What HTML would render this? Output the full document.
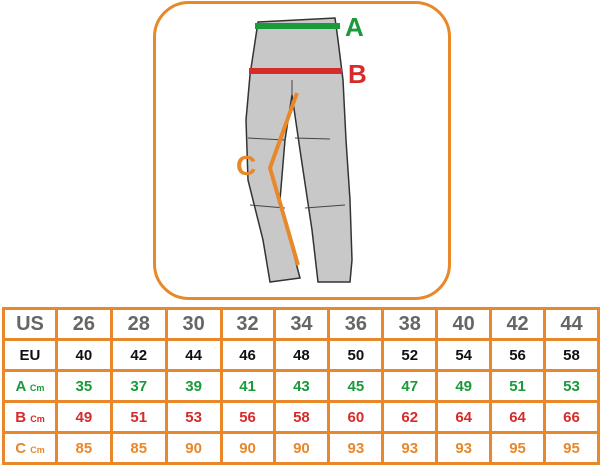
<!DOCTYPE html>
<html><head><style>
body{margin:0;width:600px;height:466px;background:#fff;position:relative;overflow:hidden;font-family:"Liberation Sans",sans-serif}
.frame{position:absolute;left:153px;top:1px;width:292px;height:293px;border:3px solid #e8882a;border-radius:36px}
table{position:absolute;left:2px;top:307px;border-collapse:collapse;height:156px}
tr{height:31px}
td{border:3px solid #e8882a;text-align:center;font-weight:bold;padding:0}
</style></head><body>
<div class="frame"></div>
<svg style="position:absolute;left:0;top:0" width="600" height="300">
<path d="M258,22 L335,18 L338,40 L343,80 L346,140 L350,200 L352,260 L350,282 L318,282 L312,230 L300,150 L292,95 L285,140 L280,200 L290,240 L300,278 L270,282 L263,240 L248,180 L246,120 L250,75 Z" fill="#c8c8c8" stroke="#333" stroke-width="1.5"/>
<path d="M248,138 L285,140 M295,138 L330,139 M250,205 L285,208 M305,208 L345,205 M292,95 L292,80" stroke="#444" fill="none"/>
<line x1="255" y1="26" x2="340" y2="26" stroke="#1a9a3a" stroke-width="6"/>
<line x1="249" y1="71" x2="342" y2="71" stroke="#d62b2b" stroke-width="6"/>
<polyline points="297,93 270,168 298,265" fill="none" stroke="#e8882a" stroke-width="4"/>
<text x="345" y="36" font-family="Liberation Sans" font-weight="bold" font-size="26" fill="#1a9a3a">A</text>
<text x="348" y="83" font-family="Liberation Sans" font-weight="bold" font-size="26" fill="#d62b2b">B</text>
<text x="236" y="175" font-family="Liberation Sans" font-weight="bold" font-size="28" fill="#e8882a">C</text>
</svg>
<table>
<colgroup><col style="width:53px"><col style="width:55px"><col style="width:55px"><col style="width:55px"><col style="width:53px"><col style="width:55px"><col style="width:54px"><col style="width:54px"><col style="width:54px"><col style="width:54px"><col style="width:54px"></colgroup>
<tr style="color:#666;font-size:20px"><td>US</td><td>26</td><td>28</td><td>30</td><td>32</td><td>34</td><td>36</td><td>38</td><td>40</td><td>42</td><td>44</td></tr>
<tr style="color:#111;font-size:15px"><td>EU</td><td>40</td><td>42</td><td>44</td><td>46</td><td>48</td><td>50</td><td>52</td><td>54</td><td>56</td><td>58</td></tr>
<tr style="color:#1a9a3a;font-size:15px"><td>A <small style="font-size:9px">Cm</small></td><td>35</td><td>37</td><td>39</td><td>41</td><td>43</td><td>45</td><td>47</td><td>49</td><td>51</td><td>53</td></tr>
<tr style="color:#d62b2b;font-size:15px"><td>B <small style="font-size:9px">Cm</small></td><td>49</td><td>51</td><td>53</td><td>56</td><td>58</td><td>60</td><td>62</td><td>64</td><td>64</td><td>66</td></tr>
<tr style="color:#e8882a;font-size:15px"><td>C <small style="font-size:9px">Cm</small></td><td>85</td><td>85</td><td>90</td><td>90</td><td>90</td><td>93</td><td>93</td><td>93</td><td>95</td><td>95</td></tr>
</table>
</body></html>
